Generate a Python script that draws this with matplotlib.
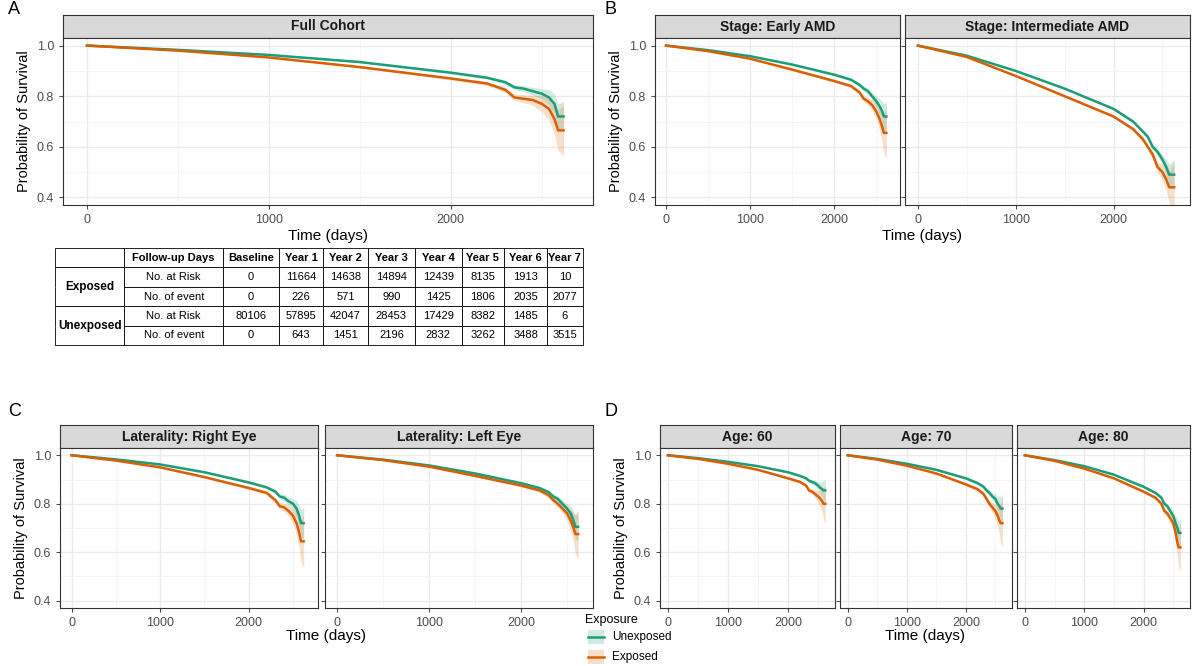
import matplotlib.pyplot as plt
import numpy as np

GREEN = "#1B9E77"
ORANGE = "#D95F02"

# shared time grid (days) for the read-off survival values
TIMES = [0, 500, 1000, 1500, 2000, 2200, 2300, 2350, 2400, 2450, 2500, 2540, 2570, 2590, 2620]

# survival estimates per facet: (unexposed, exposed)
SURV = {
    "Full Cohort": (
        [1, .983, .963, .935, .893, .873, .855, .835, .83, .82, .81, .795, .77, .72, .72],
        [1, .980, .953, .915, .870, .850, .825, .795, .79, .785, .77, .75, .71, .665, .665]),
    "Stage: Early AMD": (
        [1, .982, .958, .925, .885, .865, .845, .83, .82, .80, .78, .76, .74, .72, .72],
        [1, .978, .948, .905, .860, .840, .815, .79, .78, .765, .74, .71, .68, .655, .655]),
    "Stage: Intermediate AMD": (
        [1, .960, .900, .830, .750, .700, .660, .640, .60, .58, .55, .52, .49, .49, .49],
        [1, .955, .880, .800, .720, .670, .630, .600, .57, .52, .50, .47, .44, .44, .44]),
    "Laterality: Right Eye": (
        [1, .983, .962, .930, .888, .868, .850, .83, .825, .81, .80, .78, .75, .72, .72],
        [1, .978, .950, .910, .865, .845, .815, .79, .785, .77, .75, .72, .68, .645, .645]),
    "Laterality: Left Eye": (
        [1, .982, .958, .925, .885, .865, .848, .83, .82, .80, .78, .76, .73, .705, .705],
        [1, .980, .953, .915, .875, .855, .835, .815, .80, .78, .76, .73, .70, .675, .675]),
    "Age: 60": (
        [1, .988, .973, .955, .930, .915, .905, .895, .89, .885, .875, .865, .86, .855, .855],
        [1, .985, .965, .940, .905, .890, .875, .855, .85, .84, .83, .82, .81, .80, .80]),
    "Age: 70": (
        [1, .985, .965, .940, .905, .885, .870, .855, .845, .83, .82, .80, .79, .78, .78],
        [1, .982, .957, .925, .880, .860, .840, .82, .80, .785, .77, .75, .73, .72, .72]),
    "Age: 80": (
        [1, .980, .955, .920, .870, .845, .825, .80, .79, .77, .75, .72, .70, .68, .68],
        [1, .977, .945, .905, .850, .825, .800, .77, .76, .74, .72, .68, .64, .62, .62]),
}
# 95% CI half-widths along TIMES (unexposed, exposed), scaled per facet
CI_U = [0, .001, .002, .003, .005, .006, .008, .01, .012, .015, .02, .03, .04, .05, .06]
CI_E = [0, .001, .002, .004, .006, .008, .01, .013, .016, .02, .03, .045, .06, .08, .1]
CI_SCALE = {"Full Cohort": 1.0, "Stage: Early AMD": 1.0, "Stage: Intermediate AMD": 1.0,
            "Laterality: Right Eye": 1.1, "Laterality: Left Eye": 1.0,
            "Age: 60": 0.8, "Age: 70": 1.0, "Age: 80": 1.0}

TABLE_COLS = ["Follow-up Days", "Baseline", "Year 1", "Year 2", "Year 3", "Year 4",
              "Year 5", "Year 6", "Year 7"]
EXP_RISK = [0, 11664, 14638, 14894, 12439, 8135, 1913, 10]
EXP_EVENT = [0, 226, 571, 990, 1425, 1806, 2035, 2077]
UNEXP_RISK = [80106, 57895, 42047, 28453, 17429, 8382, 1485, 6]
UNEXP_EVENT = [0, 643, 1451, 2196, 2832, 3262, 3488, 3515]

W, H = 1200, 666
fig = plt.figure(figsize=(12, 6.66), dpi=100)
plt.rcParams["font.family"] = "Liberation Sans"


def px_axes(x0, y0, x1, y1):
    return fig.add_axes([x0 / W, 1 - y1 / H, (x1 - x0) / W, (y1 - y0) / H])


def facet(name, x0, x1, top, bottom, ylabel):
    strip = px_axes(x0, top, x1, top + 23)
    strip.set_facecolor("#D9D9D9")
    strip.set_xticks([]); strip.set_yticks([])
    for s in strip.spines.values():
        s.set_color("#333333"); s.set_linewidth(0.8)
    strip.text(0.5, 0.5, name, ha="center", va="center", fontsize=10, fontweight="bold",
               color="#1A1A1A", transform=strip.transAxes)
    ax = px_axes(x0, top + 23, x1, bottom)
    t = np.array(TIMES, float)
    u, e = (np.array(v) for v in SURV[name])
    k = CI_SCALE[name]
    cu, ce = np.array(CI_U) * k, np.array(CI_E) * k
    ax.fill_between(t, u - cu, u + cu, color=GREEN, alpha=0.2, lw=0)
    ax.fill_between(t, e - ce, e + ce, color=ORANGE, alpha=0.2, lw=0)
    ax.plot(t, u, color=GREEN, lw=1.8)
    ax.plot(t, e, color=ORANGE, lw=1.8)
    ax.set_xlim(-132, 2782)
    ax.set_ylim(0.37, 1.03)
    ax.set_xticks([0, 1000, 2000]); ax.set_xticks([500, 1500, 2500], minor=True)
    ax.set_yticks([0.4, 0.6, 0.8, 1.0]); ax.set_yticks([0.5, 0.7, 0.9], minor=True)
    ax.set_yticklabels(["0.4", "0.6", "0.8", "1.0"] if ylabel else [])
    ax.grid(True, which="major", color="#EBEBEB", lw=1.0)
    ax.grid(True, which="minor", color="#F4F4F4", lw=0.6)
    ax.set_axisbelow(True)
    ax.tick_params(labelsize=9, colors="#4D4D4D", length=3, which="both")
    ax.tick_params(which="minor", length=0)
    for s in ax.spines.values():
        s.set_color("#333333"); s.set_linewidth(0.8)
    if ylabel:
        ax.set_ylabel("Probability of Survival", fontsize=10.5)
    return ax


def row(label, lx, ly, names, xs, top, bottom, xl_y):
    fig.text(lx / W, 1 - ly / H, label, fontsize=13, va="center")
    for i, (n, (a, b)) in enumerate(zip(names, xs)):
        facet(n, a, b, top, bottom, i == 0)
    fig.text((xs[0][0] + xs[-1][1]) / 2 / W, 1 - xl_y / H, "Time (days)",
             ha="center", va="center", fontsize=11)


row("A", 8, 9, ["Full Cohort"], [(63, 593)], 15, 205, 236)
row("B", 605, 9, ["Stage: Early AMD", "Stage: Intermediate AMD"],
    [(655, 900), (905, 1190)], 15, 205, 236)
row("C", 8, 412, ["Laterality: Right Eye", "Laterality: Left Eye"],
    [(60, 318), (325, 593)], 425, 608, 636)
row("D", 605, 412, ["Age: 60", "Age: 70", "Age: 80"],
    [(660, 835), (840, 1012), (1017, 1190)], 425, 608, 636)

# at-risk table
tab = px_axes(55, 248, 583, 345)
tab.axis("off")
cells = [TABLE_COLS,
         ["No. at Risk"] + [str(v) for v in EXP_RISK],
         ["No. of event"] + [str(v) for v in EXP_EVENT],
         ["No. at Risk"] + [str(v) for v in UNEXP_RISK],
         ["No. of event"] + [str(v) for v in UNEXP_EVENT]]
cells = [[""] + cells[0]] + [[""] + r for r in cells[1:]]
colw = [65, 93, 52, 42, 42, 44, 44, 40, 40, 34]
colw = [c / sum(colw) for c in colw]
tb = tab.table(cellText=cells, colWidths=colw, loc="center", bbox=[0, 0, 1, 1], cellLoc="center")
tb.auto_set_font_size(False)
for (r, c), cell in tb.get_celld().items():
    cell.set_linewidth(0.6)
    cell.get_text().set_fontsize(8)
    if r == 0 and c > 0:
        cell.get_text().set_fontweight("bold")
    if c == 0:
        cell.get_text().set_text("")
        if r in (2, 4):
            cell.visible_edges = "LRB"
        elif r in (1, 3):
            cell.visible_edges = "LRT"
tab.text(colw[0] / 2, 0.6, "Exposed", transform=tab.transAxes, ha="center",
         va="center", fontsize=8.5, fontweight="bold")
tab.text(colw[0] / 2, 0.2, "Unexposed", transform=tab.transAxes, ha="center",
         va="center", fontsize=8.5, fontweight="bold")

# legend
fig.text(585 / W, 1 - 620 / H, "Exposure", fontsize=9, va="center")
for y, col, lab in [(637, GREEN, "Unexposed"), (657, ORANGE, "Exposed")]:
    lg = px_axes(586, y - 9, 606, y + 9)
    lg.axis("off")
    lg.set_xlim(0, 1); lg.set_ylim(0, 1)
    lg.fill_between([0.1, 0.9], 0.1, 0.9, color=col, alpha=0.2, lw=0)
    lg.plot([0.1, 0.9], [0.5, 0.5], color=col, lw=1.8)
    fig.text(612 / W, 1 - y / H, lab, fontsize=8.5, va="center")

fig.savefig("out.png", dpi=100)
